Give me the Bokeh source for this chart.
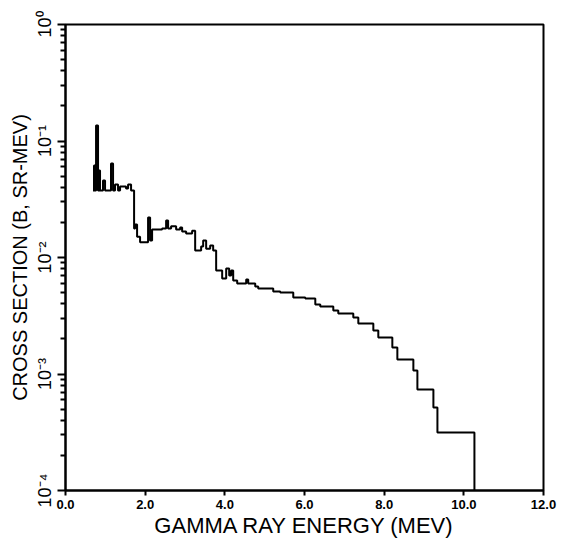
from bokeh.plotting import figure
from bokeh.models import FixedTicker, CustomJSTickFormatter, NumeralTickFormatter, ColumnDataSource, Range1d
from bokeh.embed import file_html
from bokeh.resources import INLINE

# Step histogram: bin start energies (MeV) and cross sections (b/sr-MeV)
energy_edges = [0.691, 0.716, 0.741, 0.767, 0.817, 0.842, 0.867, 0.942, 0.993, 1.143,
                1.194, 1.244, 1.319, 1.370, 1.520, 1.571, 1.646, 1.722, 1.747, 1.797,
                1.872, 2.073, 2.124, 2.174, 2.425, 2.526, 2.576, 2.651, 2.777, 2.878,
                2.928, 3.028, 3.179, 3.255, 3.405, 3.456, 3.531, 3.632, 3.707, 3.782,
                3.933, 4.034, 4.109, 4.159, 4.210, 4.310, 4.536, 4.587, 4.763, 4.838,
                5.215, 5.391, 5.718, 6.019, 6.271, 6.396, 6.723, 6.848, 7.225, 7.351,
                7.728, 7.853, 8.205, 8.331, 8.733, 8.834, 9.236, 9.337, 10.266]
cross_section = [0.0376, 0.0616, 0.0376, 0.136, 0.0376, 0.0558, 0.0376, 0.0458, 0.0376, 0.0641,
                 0.0376, 0.0423, 0.0376, 0.0407, 0.0391, 0.0423, 0.0376, 0.0177, 0.0192, 0.0151,
                 0.0135, 0.0221, 0.0140, 0.0174, 0.0177, 0.0208, 0.0177, 0.0185, 0.0174, 0.0181,
                 0.0167, 0.0161, 0.0170, 0.0115, 0.0124, 0.0140, 0.0119, 0.0127, 0.0115, 0.00773,
                 0.00660, 0.00805, 0.00700, 0.00773, 0.00635, 0.00598, 0.00647, 0.00598, 0.00564, 0.00542,
                 0.00511, 0.00501, 0.00454, 0.00445, 0.00395, 0.00380, 0.00351, 0.00331, 0.00305, 0.00271,
                 0.00236, 0.00206, 0.00169, 0.00133, 0.00107, 0.000736, 0.000515, 0.000315, 0.0001]

x_ticks = [0, 2, 4, 6, 8, 10, 12]
y_ticks = [1e-4, 1e-3, 1e-2, 1e-1, 1.0]
y_minor = [m * d for d in [1e-4, 1e-3, 1e-2, 1e-1] for m in range(2, 10)]

FONT = "Liberation Sans"

p = figure(width=569, height=544, y_axis_type="log",
           x_range=Range1d(0, 12), y_range=Range1d(1e-4, 1.0),
           output_backend="svg", toolbar_location=None,
           min_border_left=65, min_border_right=26, min_border_top=24, min_border_bottom=54)

src = ColumnDataSource(dict(x=energy_edges, y=cross_section))
p.step(x="x", y="y", source=src, mode="after", line_color="black", line_width=2)

p.xgrid.visible = False
p.ygrid.visible = False
p.outline_line_color = "black"
p.outline_line_width = 2
p.outline_line_alpha = 1
p.background_fill_color = "white"
p.border_fill_color = "white"

xa = p.xaxis[0]
xa.ticker = FixedTicker(ticks=x_ticks)
xa.formatter = NumeralTickFormatter(format="0.0")
xa.axis_line_width = 2
xa.axis_line_color = "black"
xa.major_tick_in = 0
xa.major_tick_out = 5
xa.major_tick_line_width = 2
xa.major_tick_line_color = "black"
xa.minor_tick_line_color = None
xa.major_label_text_font = FONT
xa.major_label_text_font_style = "bold"
xa.major_label_text_font_size = "13px"
xa.major_label_text_color = "black"
xa.major_label_standoff = 4
xa.axis_label = "GAMMA RAY ENERGY (MEV)"
xa.axis_label_text_font = FONT
xa.axis_label_text_font_style = "normal"
xa.axis_label_text_font_size = "22px"
xa.axis_label_text_color = "black"
xa.axis_label_standoff = 1

ya = p.yaxis[0]
ya.ticker = FixedTicker(ticks=y_ticks, minor_ticks=y_minor)
ya.formatter = CustomJSTickFormatter(code="""
const sup = {'-': '\u207b', '0': '\u2070', '1': '\u00b9', '2': '\u00b2', '3': '\u00b3', '4': '\u2074'};
const e = Math.round(Math.log10(tick)).toString();
let s = '';
for (const c of e) { s += sup[c]; }
return '10' + s;
""")
ya.major_label_orientation = "vertical"
ya.axis_line_width = 2
ya.axis_line_color = "black"
ya.major_tick_in = 0
ya.major_tick_out = 8
ya.major_tick_line_width = 2
ya.major_tick_line_color = "black"
ya.minor_tick_in = 0
ya.minor_tick_out = 5
ya.minor_tick_line_width = 2
ya.minor_tick_line_color = "black"
ya.major_label_text_font = FONT
ya.major_label_text_font_size = "18px"
ya.major_label_text_color = "black"
ya.major_label_standoff = 3
ya.axis_label = "CROSS SECTION (B, SR-MEV)"
ya.axis_label_text_font = FONT
ya.axis_label_text_font_style = "normal"
ya.axis_label_text_font_size = "20px"
ya.axis_label_text_color = "black"
ya.axis_label_standoff = 1

open("out.html", "w").write(file_html(p, INLINE))
